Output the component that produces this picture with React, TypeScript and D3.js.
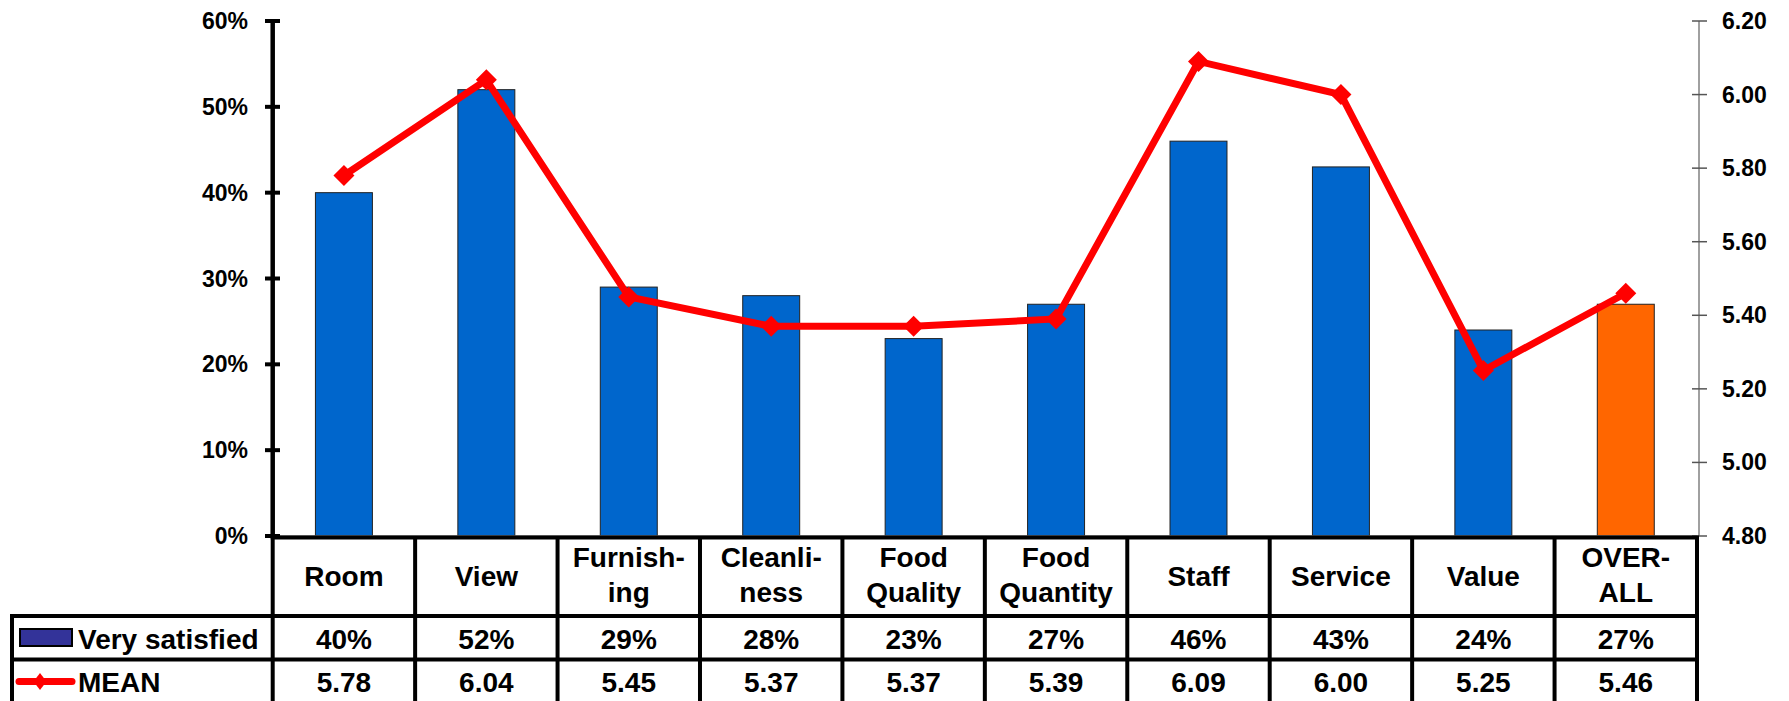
import React from "react";
import * as d3 from "d3";

const categories: string[][] = [
  ["Room"], ["View"], ["Furnish-", "ing"], ["Cleanli-", "ness"], ["Food", "Quality"],
  ["Food", "Quantity"], ["Staff"], ["Service"], ["Value"], ["OVER-", "ALL"],
];
const verySatisfied: number[] = [0.40, 0.52, 0.29, 0.28, 0.23, 0.27, 0.46, 0.43, 0.24, 0.27];
const meanValues: number[] = [5.78, 6.04, 5.45, 5.37, 5.37, 5.39, 6.09, 6.00, 5.25, 5.46];
const leftTicks: number[] = [0, 0.1, 0.2, 0.3, 0.4, 0.5, 0.6];
const rightTicks: number[] = [4.8, 5.0, 5.2, 5.4, 5.6, 5.8, 6.0, 6.2];
const seriesNames = ["Very satisfied", "MEAN"];

const W = 1789, H = 701;
const plotLeft = 272.7, plotRight = 1697;
const yTop = 21, yBottom = 536;
const headerTop = 537.5, row1Top = 616, row2Top = 659.5, tableBottom = 705;
const tableLeft = 12;
const FONT = "'Liberation Sans', Arial, sans-serif";
const TFS = 28;

export default function App() {
  const idx = categories.map((_, i) => String(i));
  const x = d3.scaleBand<string>().domain(idx).range([plotLeft, plotRight]).padding(0);
  const yL = d3.scaleLinear().domain([0, 0.6]).range([yBottom, yTop]);
  const yR = d3.scaleLinear().domain([4.8, 6.2]).range([yBottom, yTop]);
  const bw = x.bandwidth();
  const barW = bw * 0.4;
  const cx = (i: number) => (x(String(i)) as number) + bw / 2;
  const pct = d3.format(".0%");
  const f2 = d3.format(".2f");
  const line = d3.line<number>().x((_, i) => cx(i)).y((d) => yR(d));
  const diamond = (px: number, py: number, r: number, ry = r) =>
    `M${px},${py - ry}L${px + r},${py}L${px},${py + ry}L${px - r},${py}Z`;

  const vLines = d3.range(categories.length + 1).map((i) => plotLeft + i * bw);

  return (
    <svg width={W} height={H} style={{ position: "absolute", left: 0, top: 0, background: "#fff" }}
      fontFamily={FONT} fontWeight="bold">
      {/* bars */}
      {verySatisfied.map((v, i) => (
        <rect key={"b" + i} x={cx(i) - barW / 2} y={yL(v)} width={barW} height={yL(0) - yL(v)}
          fill={i === categories.length - 1 ? "#FF6600" : "#0066CC"} stroke="#222" strokeWidth={1} />
      ))}
      {/* baseline */}
      <line x1={plotLeft} x2={plotRight} y1={yBottom} y2={yBottom} stroke="#888" strokeWidth={1.5} />
      {/* left axis */}
      <line x1={plotLeft} x2={plotLeft} y1={yTop} y2={yBottom} stroke="#000" strokeWidth={4.5} />
      {leftTicks.map((t) => (
        <g key={"lt" + t}>
          <line x1={265} x2={280} y1={yL(t)} y2={yL(t)} stroke="#000" strokeWidth={4} />
          <text x={248} y={yL(t) + 8} textAnchor="end" fontSize={23}>{pct(t)}</text>
        </g>
      ))}
      {/* right axis */}
      <line x1={1699} x2={1699} y1={yTop} y2={yBottom} stroke="#808080" strokeWidth={1.5} />
      {rightTicks.map((t) => (
        <g key={"rt" + t}>
          <line x1={1692} x2={1707} y1={yR(t)} y2={yR(t)} stroke="#555" strokeWidth={1.5} />
          <text x={1722} y={yR(t) + 8} textAnchor="start" fontSize={23}>{f2(t)}</text>
        </g>
      ))}
      {/* mean line */}
      <path d={line(meanValues) || ""} fill="none" stroke="#FF0000" strokeWidth={7} strokeLinejoin="miter" />
      {meanValues.map((m, i) => (
        <path key={"m" + i} d={diamond(cx(i), yR(m), 10.5)} fill="#FF0000" />
      ))}
      {/* table lines */}
      <g stroke="#000" strokeWidth={4}>
        <line x1={plotLeft - 2} x2={plotRight + 2} y1={headerTop} y2={headerTop} />
        <line x1={tableLeft - 2} x2={plotRight + 2} y1={row1Top} y2={row1Top} />
        <line x1={tableLeft - 2} x2={plotRight + 2} y1={row2Top} y2={row2Top} />
        <line x1={tableLeft} x2={tableLeft} y1={row1Top} y2={tableBottom} />
        {vLines.map((vx, i) => (
          <line key={"v" + i} x1={vx} x2={vx} y1={headerTop} y2={tableBottom} />
        ))}
      </g>
      {/* header labels */}
      {categories.map((lines, i) =>
        lines.length === 1 ? (
          <text key={"h" + i} x={cx(i)} y={586} textAnchor="middle" fontSize={TFS}>{lines[0]}</text>
        ) : (
          <text key={"h" + i} x={cx(i)} textAnchor="middle" fontSize={TFS}>
            <tspan x={cx(i)} y={567}>{lines[0]}</tspan>
            <tspan x={cx(i)} y={602}>{lines[1]}</tspan>
          </text>
        )
      )}
      {/* row values */}
      {verySatisfied.map((v, i) => (
        <text key={"r1" + i} x={cx(i)} y={648.5} textAnchor="middle" fontSize={TFS}>{pct(v)}</text>
      ))}
      {meanValues.map((m, i) => (
        <text key={"r2" + i} x={cx(i)} y={691.5} textAnchor="middle" fontSize={TFS}>{f2(m)}</text>
      ))}
      {/* legend keys */}
      <rect x={20} y={629} width={52} height={17} fill="#333399" stroke="#000" strokeWidth={2} />
      <text x={78} y={648.5} fontSize={TFS}>{seriesNames[0]}</text>
      <line x1={19} x2={72} y1={681.5} y2={681.5} stroke="#FF0000" strokeWidth={7} strokeLinecap="round" />
      <path d={diamond(40, 681.5, 6.5, 8.5)} fill="#FF0000" />
      <text x={78} y={691.5} fontSize={TFS}>{seriesNames[1]}</text>
    </svg>
  );
}
